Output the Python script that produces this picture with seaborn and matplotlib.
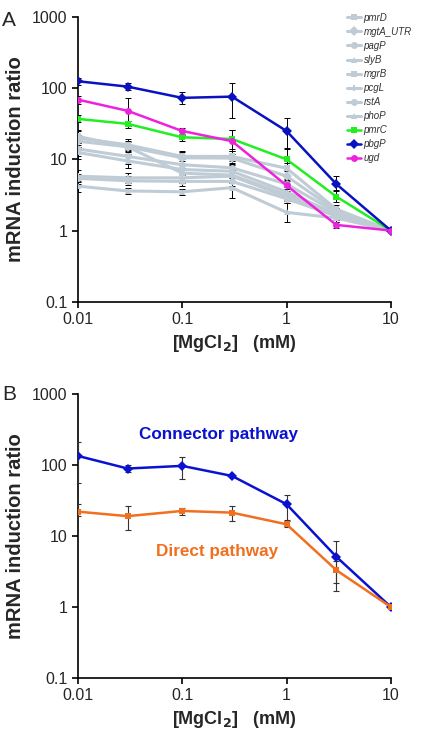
import numpy as np
import pandas as pd
import seaborn as sns
import matplotlib.pyplot as plt

# MgCl2 concentrations (mM)
mg = [0.01, 0.03, 0.1, 0.3, 1, 3, 10]

# Panel A: mRNA induction ratio per gene
genes = ['pmrD', 'mgtA_UTR', 'pagP', 'slyB', 'mgrB', 'pcgL', 'rstA', 'phoP', 'pmrC', 'pbgP', 'ugd']
pmrD = [20, 16, 11, 11, 7.5, 2.0, 1]
mgtA_UTR = [18, 15, 10.5, 10.4, 5.8, 1.9, 1]
pagP = [14, 11, 8.4, 7.6, 4.5, 1.8, 1]
slyB = [12.5, 9.5, 7.2, 6.8, 3.5, 1.7, 1]
mgrB = [21, 15, 6.4, 6.0, 3.2, 1.7, 1]
pcgL = [5.8, 5.5, 5.5, 5.8, 3.0, 1.6, 1]
rstA = [5.4, 5.0, 4.9, 4.9, 2.8, 1.6, 1]
phoP = [4.2, 3.6, 3.5, 4.0, 1.8, 1.5, 1]
pmrC = [37, 31.5, 20.4, 19.3, 10, 3.0, 1]
pbgP = [125, 105, 73, 76, 25, 4.5, 1]
ugd = [69, 48, 25, 18, 4.3, 1.2, 1]
values_a = [pmrD, mgtA_UTR, pagP, slyB, mgrB, pcgL, rstA, phoP, pmrC, pbgP, ugd]

# error bar bounds (low, high) for panel A
lo_a = [[16, 13, 9.5, 9.5, 6.0, 1.8, 0.95],
        [15, 12.5, 8.5, 8.5, 5.0, 1.7, 0.95],
        [11, 8.5, 7.0, 6.5, 3.8, 1.6, 0.95],
        [10, 7.5, 6.0, 5.5, 3.0, 1.5, 0.95],
        [17, 12, 5.5, 5.0, 2.7, 1.5, 0.95],
        [4.8, 4.6, 4.7, 4.8, 2.6, 1.4, 0.95],
        [4.5, 4.3, 4.2, 4.2, 2.4, 1.4, 0.95],
        [3.5, 3.3, 3.2, 2.9, 1.3, 1.3, 0.95],
        [33, 28, 18, 14, 7, 2.5, 0.95],
        [110, 95, 60, 38, 14.5, 3.7, 0.95],
        [60, 29, 22, 13, 3.6, 1.1, 0.95]]
hi_a = [[25, 19, 13, 13, 9.0, 2.3, 1.05],
        [22, 17.5, 12.5, 12, 6.8, 2.1, 1.05],
        [17, 13.5, 10, 9, 5.3, 2.0, 1.05],
        [15, 11.5, 8.5, 8.2, 4.1, 1.9, 1.05],
        [26, 18, 7.5, 7.2, 3.8, 1.9, 1.05],
        [7.0, 6.5, 6.3, 7.0, 3.5, 1.8, 1.05],
        [6.3, 5.8, 5.6, 5.7, 3.3, 1.8, 1.05],
        [5.0, 4.0, 3.8, 4.6, 2.4, 1.7, 1.05],
        [42, 35, 23, 26, 14, 3.6, 1.05],
        [140, 118, 88, 118, 38, 5.8, 1.05],
        [78, 73, 28, 26, 5.2, 1.3, 1.05]]

# Panel B: pathway averages
pathways = ['Connector pathway', 'Direct pathway']
connector = [134, 89, 97, 70, 28, 5.1, 1]
direct = [22, 19, 22.5, 21.3, 14.6, 3.3, 1]
connector_lo = [56, 80, 64, 68, 17, 1.66, 0.95]
connector_hi = [213, 100, 128, 72, 38, 8.6, 1.05]
direct_lo = [19, 12, 20, 16, 13.5, 2.2, 0.93]
direct_hi = [28, 26, 25, 26, 16, 4.4, 1.07]

gray = '#c0ccd5'
palette_a = {g: gray for g in genes[:8]}
palette_a.update({'pmrC': '#22ee22', 'pbgP': '#0a12c0', 'ugd': '#ee22dd'})
markers_a = {'pmrD': 's', 'mgtA_UTR': 'D', 'pagP': 'o', 'slyB': '^', 'mgrB': 's',
             'pcgL': 'P', 'rstA': 'o', 'phoP': '^', 'pmrC': 's', 'pbgP': 'D', 'ugd': 'o'}
palette_b = {'Connector pathway': '#0a12d0', 'Direct pathway': '#f07020'}

sns.set_style('ticks')
plt.rcParams['font.family'] = ['Liberation Sans', 'DejaVu Sans']

fig = plt.figure(figsize=(4.3, 7.36), dpi=100)
ax_a = fig.add_axes([0.181, 0.590, 0.728, 0.387])
ax_b = fig.add_axes([0.181, 0.0788, 0.728, 0.386])

df_a = pd.DataFrame([(g, x, v) for g, vals in zip(genes, values_a) for x, v in zip(mg, vals)],
                    columns=['gene', 'mg', 'ratio'])
df_b = pd.DataFrame([(p, x, v) for p, vals in zip(pathways, [connector, direct]) for x, v in zip(mg, vals)],
                    columns=['pathway', 'mg', 'ratio'])

# error bars first so the lines sit on top
for g, vals, lo, hi in zip(genes, values_a, lo_a, hi_a):
    v = np.array(vals)
    ax_a.errorbar(mg, v, yerr=[v - np.array(lo), np.array(hi) - v], fmt='none',
                  ecolor='black', elinewidth=0.7, capsize=2, capthick=0.7, zorder=1)

sizes = {g: 2.2 for g in genes[:8]}
sizes.update({'pmrC': 1.8, 'pbgP': 1.8, 'ugd': 1.8})
sns.lineplot(data=df_a, x='mg', y='ratio', hue='gene', style='gene', size='gene',
             sizes=sizes, palette=palette_a, markers=markers_a, dashes=False,
             markersize=5, markeredgewidth=0, ax=ax_a, legend='full', zorder=3)

for vals, lo, hi in [(connector, connector_lo, connector_hi), (direct, direct_lo, direct_hi)]:
    v = np.array(vals)
    ax_b.errorbar(mg, v, yerr=[v - np.array(lo), np.array(hi) - v], fmt='none',
                  ecolor='#333333', elinewidth=0.8, capsize=2.5, capthick=0.8, zorder=1)

sns.lineplot(data=df_b, x='mg', y='ratio', hue='pathway', style='pathway', palette=palette_b,
             markers={'Connector pathway': 'D', 'Direct pathway': 's'}, dashes=False,
             markersize=5, markeredgewidth=0, linewidth=1.8, ax=ax_b, legend=False, zorder=3)

ax_b.text(0.45, 0.856, 'Connector pathway', transform=ax_b.transAxes, ha='center', va='center',
          color=palette_b['Connector pathway'], fontsize=12.3, fontweight='bold')
ax_b.text(0.445, 0.444, 'Direct pathway', transform=ax_b.transAxes, ha='center', va='center',
          color=palette_b['Direct pathway'], fontsize=12.3, fontweight='bold')

for ax in (ax_a, ax_b):
    ax.set_xscale('log')
    ax.set_yscale('log')
    ax.set_xlim(0.01, 10)
    ax.set_ylim(0.1, 1000)
    ax.set_xticks([0.01, 0.1, 1, 10])
    ax.set_xticklabels(['0.01', '0.1', '1', '10'])
    ax.set_yticks([0.1, 1, 10, 100, 1000])
    ax.set_yticklabels(['0.1', '1', '10', '100', '1000'])
    ax.minorticks_off()
    ax.tick_params(labelsize=11.5, length=4, width=1.2, direction='out', color='black')
    for s in ('left', 'bottom'):
        ax.spines[s].set_linewidth(1.2)
        ax.spines[s].set_color('black')
    sns.despine(ax=ax)
    ax.set_xlabel(r'[MgCl$_\mathbf{2}$]   (mM)', fontsize=13, fontweight='bold', labelpad=4)
    ax.set_ylabel('mRNA induction ratio', fontsize=14.5, fontweight='bold', labelpad=5)
    for sp in ax.spines.values():
        sp.set_zorder(0)

leg = ax_a.legend(loc='upper left', bbox_to_anchor=(0.86, 1.015), frameon=False,
                  fontsize=7, handlelength=1.4, handletextpad=0.3, labelspacing=0.42,
                  borderaxespad=0, borderpad=0)
for t in leg.get_texts():
    t.set_fontstyle('italic')
    t.set_color('#333333')

fig.text(0.005, 0.972, 'A', fontsize=15, ha='left', va='center')
fig.text(0.005, 0.464, 'B', fontsize=15, ha='left', va='center')

fig.savefig('out.png', dpi=100)
